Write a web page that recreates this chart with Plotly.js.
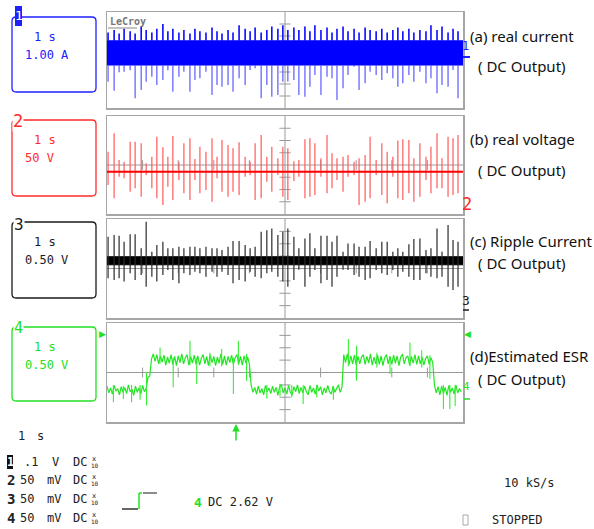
<!DOCTYPE html>
<html><head><meta charset="utf-8">
<script src="https://cdn.plot.ly/plotly-3.0.1.min.js"></script>
<style>html,body{margin:0;padding:0;background:#fff;}#chart{width:594px;height:529px;}</style>
</head><body><div id="chart"></div>
<script>
// ---- time axis (s), 1 s/div, 10 divisions ----
const timeSpan = [0, 10];
// common switching events (s)
const spikeTimes = [0.03,0.20,0.34,0.48,0.65,0.79,0.96,1.10,1.26,1.40,
  1.57,1.71,1.85,2.02,2.16,2.33,2.47,2.61,2.78,2.95,
  3.09,3.23,3.40,3.54,3.71,3.88,4.02,4.16,4.33,4.49,
  4.63,4.80,4.94,5.08,5.25,5.39,5.56,5.70,5.84,6.01,
  6.18,6.32,6.46,6.63,6.77,6.94,7.08,7.25,7.39,7.56,
  7.72,7.87,8.03,8.17,8.31,8.48,8.62,8.79,8.96,9.10,
  9.27,9.41,9.58,9.72,9.86];

// (a) real current, divisions
const currentBand = [-0.42, 1.6];
const currentUp = [2.3,2.5,2.2,2.6,2.4,2.2,2.8,2.5,2.3,2.6,
  3.0,2.4,2.6,2.3,2.5,2.2,2.6,2.4,2.3,2.7,
  2.4,2.2,2.5,2.3,2.9,2.6,2.4,2.7,2.3,2.5,
  2.8,2.6,2.9,2.5,2.7,2.5,2.8,2.4,2.9,2.5,
  2.7,2.3,2.6,2.8,2.4,2.6,2.3,2.7,2.5,2.4,
  2.6,2.3,2.5,2.7,2.4,2.6,2.3,2.5,2.4,2.9,
  2.5,2.8,2.3,2.6,2.4];
const currentDown = [-1.81,-2.57,-1.03,-0.97,-0.86,-3.19,-2.50,-1.81,-1.39,-2.08,
  -1.67,-0.86,-2.64,-1.39,-0.97,-2.64,-1.67,-1.53,-0.97,-2.92,
  -2.08,-2.22,-2.08,-2.64,-1.53,-2.08,-0.83,-0.69,-3.19,-2.08,
  -3.06,-2.92,-1.81,-1.80,-1.67,-2.92,-3.06,-2.22,-1.25,-2.92,
  -1.39,-1.53,-3.33,-2.36,-1.25,-0.56,-2.50,-1.94,-0.97,-1.25,
  -1.67,-1.11,-1.53,-2.22,-1.94,-1.25,-1.81,-0.97,-1.94,-1.53,
  -2.78,-2.08,-2.22,-0.83,-3.19];

// (b) real voltage, divisions
const voltageBaseline = -0.55;
const voltageTop = [1.09,2.59,0.41,0.27,1.90,1.90,1.77,0.14,0.68,2.31,
  1.44,0.68,2.37,0.27,1.77,2.18,0.49,1.50,1.09,2.18,
  0.68,2.04,1.63,1.36,1.85,0.68,0.27,1.77,2.45,0.68,
  1.50,0.55,1.50,1.36,0.30,0.41,2.10,2.18,1.77,0.55,
  2.45,0.95,0.55,0.68,0.82,0.27,0.55,0.82,2.31,0.41,
  1.77,1.09,0.68,1.99,2.10,2.04,0.55,1.77,0.68,1.50,
  2.59,0.55,2.31,2.18,2.45];
const voltageBottom = [-1.63,-2.72,-0.95,-1.09,-2.18,-1.90,-2.59,-0.82,-1.90,-2.72,
  -3.27,-1.77,-2.86,-1.22,-2.31,-2.86,-1.22,-2.31,-2.04,-3.00,
  -1.09,-2.18,-2.59,-2.18,-2.45,-0.95,-0.82,-2.86,-2.72,-1.36,
  -2.18,-0.82,-2.60,-2.86,-1.30,-0.95,-2.72,-2.59,-2.45,-0.95,
  -2.31,-1.90,-1.22,-2.18,-0.95,-0.82,-3.27,-3.00,-2.72,-0.82,
  -2.45,-3.13,-0.95,-2.72,-2.86,-2.31,-3.00,-2.59,-1.22,-2.31,
  -1.90,-1.90,-2.59,-2.45,-2.31];

// (c) ripple current, divisions
const rippleBand = [0.30, 0.95];
const rippleTop = [2.57,2.70,2.65,2.16,2.76,2.76,1.63,3.77,1.36,1.90,
  2.16,1.63,1.63,1.76,1.63,1.76,1.76,1.63,1.76,1.63,
  1.63,1.49,1.76,2.22,2.22,1.90,1.63,1.76,2.97,3.10,
  3.24,2.70,2.97,3.24,2.57,1.63,2.43,2.84,1.63,2.65,
  2.65,2.16,2.65,1.36,2.03,2.03,1.76,1.76,2.22,1.63,
  2.16,2.16,1.36,1.63,1.36,1.95,2.38,2.43,1.49,1.63,
  3.24,1.36,3.51,2.30,2.16];
const rippleBottom = [-0.79,-0.93,-0.79,-1.06,-0.39,-0.93,-0.52,-1.47,-0.66,-1.06,
  -0.52,-0.12,-0.93,-1.19,-0.39,-0.52,-0.26,-0.39,-0.66,-0.26,
  -0.66,-0.26,-0.52,-1.19,-0.93,-1.06,-0.26,-0.66,-0.79,-0.39,
  -0.26,-0.66,-1.06,-1.47,-0.93,-0.10,-1.47,-0.66,-0.12,-1.19,
  -0.93,-1.47,-0.66,-0.10,-0.12,-0.52,-0.66,-0.93,-0.79,-0.12,
  -0.39,-0.52,-0.12,-0.66,-0.26,-0.66,-0.93,-0.93,-0.39,-0.66,
  -0.79,-0.66,-1.47,-1.73,-1.47];

// (d) estimated ESR, divisions, sampled every 0.05 s
const esrSampleStep = 0.05;
const esrTrace = [
  -1.10,-1.65,-1.25,-1.75,-1.05,-1.50,-1.30,-1.80,-1.15,-1.60,
  -1.20,-1.70,-1.00,-1.55,-1.35,-1.85,-1.10,-1.60,-1.25,-1.75,
  -1.05,-1.55,-1.30,-0.40,-0.30, 1.10, 1.50, 0.90, 1.45, 0.70,
   1.35, 0.85, 1.40, 0.60, 1.25, 0.75, 1.45, 0.65, 1.30, 0.55,
   1.35, 0.80, 1.50, 0.70, 1.20, 1.45, 0.60, 1.30, 0.75, 1.40,
   0.65, 1.35, 0.60, 1.15, 1.45, 0.70, 1.30, 0.55, 1.40, 0.80,
   1.30, 0.55, 1.25, 0.75, 1.50, 0.65, 1.35, 0.60, 1.30, 0.80,
   1.40, 0.65, 1.20, 1.45, 0.70, 1.30, 0.60, 1.35, 0.75, 1.25,
   0.70,-1.05,-1.60,-1.20,-1.75,-1.10,-1.65,-1.30,-1.80,-1.05,
  -1.55,-1.25,-1.70,-1.10,-1.60,-1.20,-1.85,-1.15,-1.00,-1.65,
  -1.25,-1.75,-1.05,-1.60,-1.80,-1.15,-1.55,-1.00,-1.70,-1.20,
  -1.65,-1.10,-1.55,-1.80,-1.05,-1.60,-1.25,-1.75,-1.00,-1.50,
  -1.15,-1.80,-1.25,-1.65,-1.05,-1.55,-1.75,-1.10,-1.60,-1.30,
  -1.00,-1.60,-1.20, 1.45, 0.80, 1.50, 0.65, 1.35, 0.70, 1.40,
   0.60, 1.30, 0.70, 1.25, 1.45, 0.65, 1.30, 0.75, 1.50, 0.60,
   1.25, 0.70, 1.40, 0.65, 1.35, 0.55, 1.20, 1.45, 0.70, 1.30,
   0.65, 1.40, 0.75, 1.35, 0.55, 1.25, 1.50, 0.70, 1.20, 1.35,
   0.60, 1.30, 0.75, 1.45, 0.65, 1.35, 0.70, 1.25, 0.60, 1.15,
   1.35, 0.65, 1.20, 0.80,-1.05,-1.65,-1.15,-1.80,-1.10,-1.70,
  -1.20,-1.85,-1.05,-1.60,-1.25,-1.75,-1.00,-1.65,-1.30,-1.55];
const esrSpikeTimes = [0.18,0.46,0.69,0.93,1.11,1.49,1.86,2.33,2.52,2.89,
  3.22,3.55,3.69,3.92,4.49,4.86,5.19,5.51,5.89,6.36,
  6.78,7.01,7.58,7.95,8.51,8.84,9.07,9.45,9.63,9.78];
const esrSpikeTop = [-1.0,-1.1,-1.0,-1.0,0.0,2.03,1.2,2.57,1.2,1.6,
  1.90,1.2,2.57,1.5,-1.0,-0.9,-1.0,-1.0,-1.0,-1.1,
  2.70,2.16,1.6,1.3,2.43,1.8,1.4,-1.0,-1.0,-1.0];
const esrSpikeBottom = [-2.40,-2.14,-2.40,-2.2,-2.67,0.7,-1.19,0.6,-0.93,0.5,
  0.5,-1.73,0.6,-0.66,-2.1,-1.9,-2.0,-2.54,-2.0,-2.2,
  0.5,-0.66,0.4,-0.12,0.5,0.4,-0.5,-2.94,-2.94,-2.7];

// ---- text ----
const captions = [["(a) real current","( DC Output)"],["(b) real voltage","( DC Output)"],
  ["(c) Ripple Current","( DC Output)"],["(d)Estimated ESR","( DC Output)"]];
const channelScales = [["1 s","1.00 A"],["1 s","50 V"],["1 s","0.50 V"],["1 s","0.50 V"]];
const channelColors = ["#2020ff","#ff2a2a","#1a1a1a","#22e022"];
const probeRows = [["1",".1","V"],["2","50","mV"],["3","50","mV"],["4","50","mV"]];
const vTicks = [-3,-2,-1,1,2,3];
const hTicks = [1,2,3,4,6,7,8,9];

// ---- layout geometry (pixels) ----
const W = 594, H = 529;
const X = v => v / W, Y = v => 1 - v / H;
const panelPx = [[12,108],[116,214],[219,318],[323,422]];
const boxPx = [[17,92],[120,196],[222,298],[327,401]];
const capY = [[36,66],[139,170],[241,263],[356,379]];
const xDom = [X(107), X(463)];

function spikes(t, lo, hi) {
  const x = [], y = [];
  for (let i = 0; i < t.length; i++) {
    const a = Array.isArray(lo) ? lo[i] : lo, b = Array.isArray(hi) ? hi[i] : hi;
    x.push(t[i], t[i], null); y.push(a, b, null);
  }
  return {x, y};
}
const traces = [];
const ax = k => (k === 0 ? '' : String(k + 1));
// center ticks
for (let k = 0; k < 4; k++) {
  traces.push({x: vTicks.map(() => 5), y: vTicks, xaxis: 'x'+ax(k), yaxis: 'y'+ax(k), mode: 'markers', hoverinfo: 'skip',
    marker: {symbol: 'line-ew', size: 8, line: {color: '#9a9a9a', width: 1}}});
  traces.push({x: hTicks, y: hTicks.map(() => 0), xaxis: 'x'+ax(k), yaxis: 'y'+ax(k), mode: 'markers', hoverinfo: 'skip',
    marker: {symbol: 'line-ns', size: 7, line: {color: '#9a9a9a', width: 1}}});
}
// panel 1
traces.push({x: [timeSpan[0], timeSpan[1], timeSpan[1], timeSpan[0], timeSpan[0]],
  y: [currentBand[0], currentBand[0], currentBand[1], currentBand[1], currentBand[0]],
  fill: 'toself', fillcolor: '#0000ff', mode: 'lines', line: {color: '#0000ff', width: 1}, xaxis: 'x', yaxis: 'y'});
let s = spikes(spikeTimes, currentBand[0], currentDown);
traces.push({x: s.x, y: s.y, mode: 'lines', line: {color: '#5a5aff', width: 1.2}, xaxis: 'x', yaxis: 'y'});
s = spikes(spikeTimes, currentBand[1], currentUp);
traces.push({x: s.x, y: s.y, mode: 'lines', line: {color: '#0a0aff', width: 1.6}, xaxis: 'x', yaxis: 'y'});
// panel 2
s = spikes(spikeTimes, voltageBottom, voltageTop);
traces.push({x: s.x, y: s.y, mode: 'lines', line: {color: '#ff5a5a', width: 1.2}, xaxis: 'x2', yaxis: 'y2'});
traces.push({x: timeSpan, y: [voltageBaseline, voltageBaseline], mode: 'lines', line: {color: '#ff0000', width: 2.2}, xaxis: 'x2', yaxis: 'y2'});
// panel 3
traces.push({x: [timeSpan[0], timeSpan[1], timeSpan[1], timeSpan[0], timeSpan[0]],
  y: [rippleBand[0], rippleBand[0], rippleBand[1], rippleBand[1], rippleBand[0]],
  fill: 'toself', fillcolor: '#000', mode: 'lines', line: {color: '#000', width: 1}, xaxis: 'x3', yaxis: 'y3'});
s = spikes(spikeTimes, rippleBottom, rippleTop);
traces.push({x: s.x, y: s.y, mode: 'lines', line: {color: '#2a2a2a', width: 1.2}, xaxis: 'x3', yaxis: 'y3'});
// panel 4
traces.push({y: esrTrace, x0: 0, dx: esrSampleStep, mode: 'lines', line: {color: '#22e622', width: 1.2}, xaxis: 'x4', yaxis: 'y4'});
s = spikes(esrSpikeTimes, esrSpikeBottom, esrSpikeTop);
traces.push({x: s.x, y: s.y, mode: 'lines', line: {color: '#33ee33', width: 1.1}, xaxis: 'x4', yaxis: 'y4'});

const layout = {width: W, height: H, margin: {l: 0, r: 0, t: 0, b: 0}, paper_bgcolor: '#fff', plot_bgcolor: '#fff',
  showlegend: false, shapes: [], annotations: []};
for (let k = 0; k < 4; k++) {
  layout['xaxis'+ax(k)] = {domain: xDom, range: timeSpan, anchor: 'y'+ax(k), showgrid: false, zeroline: false,
    showticklabels: false, ticks: '', showline: true, mirror: true, linecolor: '#a6a6a6', linewidth: 1.5, fixedrange: true};
  layout['yaxis'+ax(k)] = {domain: [Y(panelPx[k][1]), Y(panelPx[k][0])], range: [-4, 4], anchor: 'x'+ax(k), showgrid: false,
    zeroline: false, showticklabels: false, ticks: '', showline: true, mirror: true, linecolor: '#a6a6a6', linewidth: 1.5, fixedrange: true};
  layout.shapes.push({type: 'line', xref: 'x'+ax(k), yref: 'y'+ax(k), x0: 5, x1: 5, y0: -4, y1: 4, line: {color: '#9a9a9a', width: 1}, layer: 'below'});
  layout.shapes.push({type: 'line', xref: 'x'+ax(k), yref: 'y'+ax(k), x0: 0, x1: 10, y0: 0, y1: 0, line: {color: '#9a9a9a', width: 1}, layer: 'below'});
}
function rbox(x0, y0, x1, y1, r, color) {
  const p = `M ${X(x0+r)} ${Y(y0)} L ${X(x1-r)} ${Y(y0)} Q ${X(x1)} ${Y(y0)} ${X(x1)} ${Y(y0+r)} L ${X(x1)} ${Y(y1-r)} Q ${X(x1)} ${Y(y1)} ${X(x1-r)} ${Y(y1)} L ${X(x0+r)} ${Y(y1)} Q ${X(x0)} ${Y(y1)} ${X(x0)} ${Y(y1-r)} L ${X(x0)} ${Y(y0+r)} Q ${X(x0)} ${Y(y0)} ${X(x0+r)} ${Y(y0)} Z`;
  return {type: 'path', xref: 'paper', yref: 'paper', path: p, line: {color, width: 1.3}};
}
function txt(x, y, text, size, color, family, extra) {
  return Object.assign({xref: 'paper', yref: 'paper', x: X(x), y: Y(y), xanchor: 'left', yanchor: 'middle', showarrow: false,
    text, font: {size, color, family}}, extra || {});
}
const MONO = 'DejaVu Sans Mono';
const SANS = 'Noto Sans';
for (let k = 0; k < 4; k++) {
  const c = channelColors[k];
  layout.shapes.push(rbox(12, boxPx[k][0], 96, boxPx[k][1], 4, c));
  layout.annotations.push(txt(32, boxPx[k][0] + 20, channelScales[k][0], 12, c, MONO));
  layout.annotations.push(txt(23, boxPx[k][0] + 38, channelScales[k][1], 12, c, MONO));
  layout.annotations.push(txt(468, capY[k][0], captions[k][0], 15, '#111', SANS));
  layout.annotations.push(txt(476, capY[k][1], captions[k][1], 15, '#111', SANS));
}
// box channel numbers
layout.shapes.push({type: 'rect', xref: 'paper', yref: 'paper', x0: X(15), x1: X(22), y0: Y(26), y1: Y(6), fillcolor: '#2020ff', line: {width: 0}});
layout.annotations.push(txt(18.5, 16, '1', 13, '#fff', MONO, {xanchor: 'center'}));
layout.annotations.push(txt(17.5, 121, '2', 17, channelColors[1], MONO, {xanchor: 'center', bgcolor: '#fff', borderpad: 0}));
layout.annotations.push(txt(18.5, 224, '3', 16, channelColors[2], MONO, {xanchor: 'center', bgcolor: '#fff', borderpad: 0}));
layout.annotations.push(txt(18.5, 328, '4', 15, channelColors[3], MONO, {xanchor: 'center', bgcolor: '#fff', borderpad: 0}));
// right-side channel markers
layout.annotations.push(txt(465.5, 46, '1', 12, channelColors[0], MONO, {xanchor: 'center'}));
layout.shapes.push({type: 'line', xref: 'paper', yref: 'paper', x0: X(463), x1: X(470), y0: Y(57), y1: Y(57), line: {color: channelColors[0], width: 2}});
layout.annotations.push(txt(467, 204, '2', 17, channelColors[1], MONO, {xanchor: 'center'}));
layout.annotations.push(txt(466, 300, '3', 13, channelColors[2], MONO, {xanchor: 'center'}));
layout.shapes.push({type: 'line', xref: 'paper', yref: 'paper', x0: X(463), x1: X(469), y0: Y(310), y1: Y(310), line: {color: channelColors[2], width: 1.5}});
layout.annotations.push(txt(467, 334, '◀', 9, channelColors[3], 'DejaVu Sans', {xanchor: 'center'}));
layout.annotations.push(txt(103, 334, '▶', 9, channelColors[3], 'DejaVu Sans', {xanchor: 'center'}));
layout.annotations.push(txt(466, 386, '4', 11, channelColors[3], MONO, {xanchor: 'center'}));
layout.shapes.push({type: 'line', xref: 'paper', yref: 'paper', x0: X(464), x1: X(470), y0: Y(399), y1: Y(399), line: {color: channelColors[3], width: 1.5}});
// LeCroy
layout.annotations.push(txt(108, 21, '<b>LeCroy</b>', 10, '#777', MONO));
layout.shapes.push({type: 'line', xref: 'paper', yref: 'paper', x0: X(108), x1: X(137), y0: Y(28), y1: Y(28), line: {color: '#888', width: 1}});
// trigger arrow
layout.annotations.push({xref: 'paper', yref: 'paper', x: X(236), y: Y(424), ax: 0, ay: 18, text: '', showarrow: true,
  arrowhead: 2, arrowsize: 1, arrowwidth: 1.5, arrowcolor: '#22e022'});
// bottom status
const DARK = '#222';
layout.annotations.push(txt(16, 436, '1', 12, DARK, MONO));
layout.annotations.push(txt(35, 436, 's', 12, DARK, MONO));
const rowY = [462, 480, 499, 518];
for (let k = 0; k < 4; k++) {
  const r = probeRows[k];
  if (k === 0) {
    layout.shapes.push({type: 'rect', xref: 'paper', yref: 'paper', x0: X(7), x1: X(13), y0: Y(rowY[k]+7), y1: Y(rowY[k]-7), fillcolor: '#111', line: {width: 0}});
    layout.annotations.push(txt(10, rowY[k], '<b>' + r[0] + '</b>', 12, '#fff', MONO, {xanchor: 'center'}));
  } else {
    layout.annotations.push(txt(10.5, rowY[k], '<b>' + r[0] + '</b>', 14, DARK, MONO, {xanchor: 'center'}));
  }
  layout.annotations.push(txt(k === 0 ? 22 : 18, rowY[k], r[1], 12, DARK, MONO));
  layout.annotations.push(txt(k === 0 ? 50 : 45, rowY[k], r[2], 12, DARK, MONO));
  layout.annotations.push(txt(71, rowY[k], 'DC', 12, DARK, MONO));
  layout.annotations.push(txt(90, rowY[k] - 3.5, 'x', 7, DARK, MONO));
  layout.annotations.push(txt(89, rowY[k] + 3.5, '10', 6, DARK, MONO));
}
// trigger step symbol
layout.shapes.push({type: 'line', xref: 'paper', yref: 'paper', x0: X(122), x1: X(138), y0: Y(509), y1: Y(509), line: {color: '#333', width: 1.5}});
layout.shapes.push({type: 'line', xref: 'paper', yref: 'paper', x0: X(139), x1: X(139), y0: Y(509), y1: Y(493), line: {color: '#22e022', width: 1.5}});
layout.shapes.push({type: 'line', xref: 'paper', yref: 'paper', x0: X(139), x1: X(142), y0: Y(493), y1: Y(493), line: {color: '#22e022', width: 1.5}});
layout.shapes.push({type: 'line', xref: 'paper', yref: 'paper', x0: X(143), x1: X(157), y0: Y(493), y1: Y(493), line: {color: '#666', width: 1.5}});
layout.annotations.push(txt(192, 502, '<b>4</b>', 13, '#22e022', MONO));
layout.annotations.push(txt(206, 502, 'DC 2.62 V', 12, DARK, MONO));
layout.annotations.push(txt(502, 483, '10 kS/s', 12, DARK, MONO));
layout.shapes.push({type: 'rect', xref: 'paper', yref: 'paper', x0: X(463), x1: X(468), y0: Y(525), y1: Y(515), line: {color: '#aaa', width: 1}});
layout.annotations.push(txt(490, 520, 'STOPPED', 12, DARK, MONO));

Plotly.newPlot('chart', traces, layout, {staticPlot: true, displayModeBar: false});
</script>
</body></html>
